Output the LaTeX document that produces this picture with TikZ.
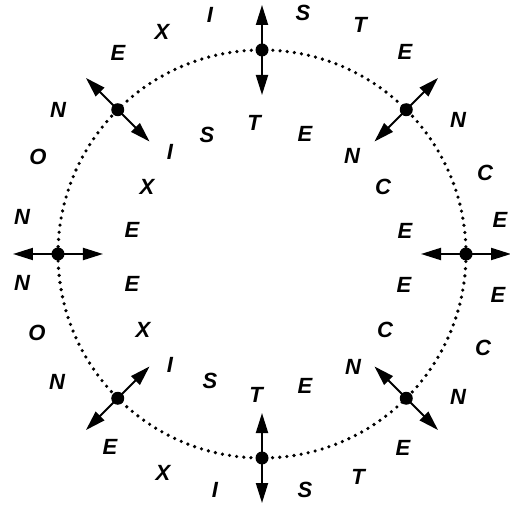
\documentclass[tikz,border=0pt]{standalone}
\usepackage{fontspec}
\setmainfont{Liberation Sans}
\usetikzlibrary{arrows.meta,positioning,calc}

\begin{document}
\begin{tikzpicture}[x=1pt, y=1pt,
	lett/.style={font={\fontsize{22pt}{24pt}\selectfont\bfseries\itshape}, inner sep=0pt},
	spot/.style={circle, fill=black, inner sep=0pt, minimum size=13pt},
	arr/.style={{Triangle[length=20pt,width=12pt]}-{Triangle[length=20pt,width=12pt]}, line width=2pt}]
	\useasboundingbox (-262,-256) rectangle (247,254);
	\coordinate (O) at (0,0);
	% dotted ring
	\draw[line width=3.6pt, line cap=round, dash pattern=on 0pt off 7.2pt] (O) circle (204);
	% radial double arrows and spots
	\foreach \a in {0,45,...,315}{
		\coordinate (out\a) at ($(O)+(\a:249)$);
		\coordinate (in\a) at ($(O)+(\a:159)$);
		\draw[arr] (in\a) -- (out\a);
		\node[spot] (s\a) at ($(O)+(\a:204)$) {};}
	% outer ring: NONEXISTENCE, upper and lower
	\foreach \x/\y/\l [count=\i] in {-240/37/N,-224/97/O,-204/144/N,-144/201/E,-100/222/X,-52/239/I,41/241/S,98/229/T,143/202/E,196/134/N,223/81/C,238/34/E}{
		\node[lett] (ou\i) at (\x,\y) {\l};}
	\foreach \x/\y/\l [count=\i] in {-240/-29/N,-225/-79/O,-205/-128/N,-152/-193/E,-99/-219/X,-47/-236/I,43/-236/S,96/-223/T,141/-194/E,196/-143/N,221/-94/C,236/-41/E}{
		\node[lett] (ol\i) at (\x,\y) {\l};}
	% inner ring: EXISTENCE, upper and lower
	\foreach \x/\y/\l [count=\i] in {-130/24/E,-115/67/X,-92/102/I,-55/119/S,-8/131/T,43/120/E,90/98/N,121/67/C,143/23/E}{
		\node[lett] (iu\i) at (\x,\y) {\l};}
	\foreach \x/\y/\l [count=\i] in {-130/-30/E,-119/-76/X,-92/-111/I,-52/-127/S,-6/-141/T,43/-132/E,91/-113/N,123/-76/C,142/-31/E}{
		\node[lett] (il\i) at (\x,\y) {\l};}
\end{tikzpicture}
\end{document}
